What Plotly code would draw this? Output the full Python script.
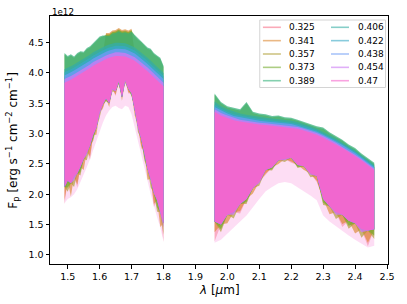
import plotly.graph_objects as go

# wavelength grids (micron) of the two spectral segments
wl_a = [1.49, 1.50, 1.51, 1.52, 1.53, 1.54, 1.55, 1.56, 1.57, 1.58, 1.59, 1.60, 1.61, 1.62, 1.63, 1.64,
        1.65, 1.66, 1.67, 1.68, 1.69, 1.70, 1.71, 1.72, 1.73, 1.74, 1.75, 1.76, 1.77, 1.78, 1.79, 1.80]
wl_b = [1.96, 1.98, 2.00, 2.02, 2.04, 2.06, 2.08, 2.10, 2.12, 2.14, 2.16, 2.18, 2.20, 2.22, 2.24, 2.26,
        2.28, 2.30, 2.32, 2.34, 2.36, 2.38, 2.40, 2.42, 2.44, 2.46]

labels = ["0.325", "0.341", "0.357", "0.373", "0.389", "0.406", "0.422", "0.438", "0.454", "0.47"]
colors = ["#f77189", "#dc8932", "#ae9d31", "#77ab31", "#33b07a",
          "#36ada4", "#38a9c5", "#6e9bf4", "#cc7af4", "#f565cc"]

# upper / lower envelope of each noisy spectrum, flux in units of 1e12 erg s-1 cm-2 cm-1
# (first 32 values on wl_a, then 26 values on wl_b)
up_0325 = [3.80, 3.82, 3.85, 3.88, 3.91, 3.94, 3.97, 4.01, 4.04, 4.08, 4.11, 4.14, 4.17, 4.19, 4.21, 4.23,
           4.24, 4.24, 4.24, 4.23, 4.21, 4.19, 4.16, 4.12, 4.08, 4.04, 3.99, 3.94, 3.89, 3.84, 3.79, 3.74,
           3.33, 3.27, 3.23, 3.19, 3.17, 3.15, 3.13, 3.12, 3.11, 3.10, 3.09, 3.08, 3.07, 3.05, 3.02, 2.99,
           2.95, 2.90, 2.85, 2.79, 2.73, 2.67, 2.60, 2.53, 2.45, 2.37]
lo_0325 = [1.83, 2.22, 2.18, 2.30, 2.11, 2.45, 2.58, 2.70, 2.57, 2.98, 3.10, 3.36, 3.40, 3.58, 3.50, 3.74,
           3.62, 3.86, 3.60, 3.88, 3.66, 3.66, 3.42, 3.12, 2.76, 2.70, 2.42, 2.25, 1.79, 1.90, 1.70, 1.21,
           1.22, 1.50, 1.66, 1.70, 1.68, 1.92, 2.10, 2.20, 2.32, 2.44, 2.56, 2.58, 2.52, 2.48, 2.46, 2.34,
           2.20, 1.92, 1.80, 1.70, 1.46, 1.56, 1.52, 1.42, 1.14, 1.42]

up_0341 = [3.94, 3.96, 3.99, 4.02, 4.05, 4.08, 4.11, 4.15, 4.18, 4.22, 4.25, 4.28, 4.31, 4.66, 4.66, 4.70,
           4.71, 4.74, 4.71, 4.72, 4.70, 4.73, 4.30, 4.26, 4.22, 4.18, 4.13, 4.08, 4.03, 3.98, 3.93, 3.88,
           3.41, 3.35, 3.31, 3.27, 3.25, 3.23, 3.21, 3.20, 3.19, 3.18, 3.17, 3.16, 3.15, 3.13, 3.10, 3.07,
           3.03, 2.98, 2.93, 2.87, 2.81, 2.75, 2.68, 2.61, 2.53, 2.45]
lo_0341 = [1.90, 2.22, 1.96, 2.30, 2.16, 2.45, 2.40, 2.70, 2.62, 2.98, 2.98, 3.36, 3.42, 3.58, 3.44, 3.74,
           3.64, 3.86, 3.54, 3.88, 3.68, 3.66, 3.30, 3.12, 2.80, 2.70, 2.24, 2.25, 1.84, 1.90, 1.46, 1.52,
           1.37, 1.50, 1.52, 1.70, 1.72, 1.92, 2.01, 2.20, 2.34, 2.44, 2.50, 2.58, 2.54, 2.48, 2.40, 2.34,
           2.22, 1.92, 1.67, 1.70, 1.51, 1.56, 1.35, 1.42, 1.20, 1.42]

up_0357 = [3.94, 3.96, 3.99, 4.02, 4.05, 4.08, 4.11, 4.15, 4.18, 4.22, 4.25, 4.28, 4.31, 4.64, 4.64, 4.68,
           4.69, 4.72, 4.69, 4.70, 4.68, 4.71, 4.30, 4.26, 4.22, 4.18, 4.13, 4.08, 4.03, 3.98, 3.93, 3.88,
           3.41, 3.35, 3.31, 3.27, 3.25, 3.23, 3.21, 3.20, 3.19, 3.18, 3.17, 3.16, 3.15, 3.13, 3.10, 3.07,
           3.03, 2.98, 2.93, 2.87, 2.81, 2.75, 2.68, 2.61, 2.53, 2.45]
lo_0357 = [2.12, 2.04, 2.18, 2.12, 2.34, 2.31, 2.58, 2.56, 2.80, 2.88, 3.10, 3.26, 3.48, 3.53, 3.50, 3.69,
           3.70, 3.81, 3.60, 3.83, 3.74, 3.61, 3.42, 3.02, 2.92, 2.56, 2.42, 2.11, 2.02, 1.71, 1.70, 1.33,
           1.55, 1.37, 1.66, 1.60, 1.84, 1.84, 2.10, 2.14, 2.40, 2.39, 2.56, 2.53, 2.60, 2.43, 2.46, 2.28,
           2.30, 1.82, 1.80, 1.59, 1.66, 1.43, 1.52, 1.28, 1.40, 1.26]

up_0373 = [4.31, 4.26, 4.29, 4.25, 4.31, 4.34, 4.33, 4.39, 4.42, 4.47, 4.53, 4.58, 4.60, 4.63, 4.63, 4.67,
           4.68, 4.71, 4.68, 4.69, 4.67, 4.70, 4.61, 4.55, 4.51, 4.45, 4.40, 4.38, 4.31, 4.27, 4.23, 4.10,
           3.64, 3.50, 3.43, 3.40, 3.38, 3.50, 3.34, 3.31, 3.30, 3.27, 3.28, 3.25, 3.24, 3.21, 3.17, 3.14,
           3.10, 3.08, 3.00, 2.94, 2.88, 2.80, 2.74, 2.65, 2.58, 2.50]
lo_0373 = [2.12, 2.11, 2.18, 2.30, 2.34, 2.36, 2.58, 2.70, 2.80, 2.92, 3.10, 3.36, 3.48, 3.55, 3.50, 3.74,
           3.70, 3.83, 3.60, 3.88, 3.74, 3.63, 3.42, 3.12, 2.92, 2.61, 2.42, 2.25, 2.02, 1.78, 1.70, 1.52,
           1.55, 1.42, 1.66, 1.70, 1.84, 1.87, 2.10, 2.20, 2.40, 2.41, 2.56, 2.58, 2.60, 2.45, 2.46, 2.34,
           2.30, 1.86, 1.80, 1.70, 1.66, 1.48, 1.52, 1.42, 1.40, 1.32]

up_0389 = [4.33, 4.28, 4.31, 4.27, 4.33, 4.36, 4.35, 4.41, 4.44, 4.49, 4.55, 4.60, 4.62, 4.61, 4.61, 4.65,
           4.66, 4.69, 4.66, 4.67, 4.65, 4.68, 4.63, 4.57, 4.53, 4.47, 4.42, 4.40, 4.33, 4.29, 4.25, 4.12,
           3.66, 3.52, 3.45, 3.42, 3.40, 3.52, 3.36, 3.33, 3.32, 3.29, 3.30, 3.27, 3.26, 3.23, 3.19, 3.16,
           3.12, 3.10, 3.02, 2.96, 2.90, 2.82, 2.76, 2.67, 2.60, 2.52]
lo_0389 = [2.12, 2.22, 2.18, 2.30, 2.34, 2.45, 2.58, 2.70, 2.80, 2.98, 3.10, 3.36, 3.48, 3.58, 3.50, 3.74,
           3.70, 3.86, 3.60, 3.88, 3.74, 3.66, 3.42, 3.12, 2.92, 2.70, 2.42, 2.25, 2.02, 1.90, 1.70, 1.52,
           1.55, 1.50, 1.66, 1.70, 1.84, 1.92, 2.10, 2.20, 2.40, 2.44, 2.56, 2.58, 2.60, 2.48, 2.46, 2.34,
           2.30, 1.92, 1.80, 1.70, 1.66, 1.56, 1.52, 1.42, 1.40, 1.42]

up_0406 = [4.06, 4.08, 4.11, 4.14, 4.17, 4.20, 4.23, 4.27, 4.30, 4.34, 4.37, 4.40, 4.43, 4.45, 4.47, 4.49,
           4.50, 4.50, 4.50, 4.49, 4.47, 4.45, 4.42, 4.38, 4.34, 4.30, 4.25, 4.20, 4.15, 4.10, 4.05, 4.00,
           3.53, 3.45, 3.40, 3.36, 3.33, 3.31, 3.29, 3.28, 3.26, 3.25, 3.24, 3.22, 3.21, 3.19, 3.16, 3.12,
           3.08, 3.03, 2.98, 2.92, 2.85, 2.79, 2.72, 2.64, 2.56, 2.48]
lo_0406 = [2.12, 2.22, 2.18, 2.30, 2.34, 2.45, 2.58, 2.70, 2.80, 2.98, 3.10, 3.36, 3.48, 3.58, 3.50, 3.74,
           3.70, 3.86, 3.60, 3.88, 3.74, 3.66, 3.42, 3.12, 2.92, 2.70, 2.42, 2.25, 2.02, 1.90, 1.70, 1.52,
           1.55, 1.50, 1.66, 1.70, 1.84, 1.92, 2.10, 2.20, 2.40, 2.44, 2.56, 2.58, 2.60, 2.48, 2.46, 2.34,
           2.30, 1.92, 1.80, 1.70, 1.66, 1.56, 1.52, 1.42, 1.40, 1.42]

up_0422 = [4.01, 4.03, 4.06, 4.09, 4.12, 4.15, 4.18, 4.22, 4.25, 4.29, 4.32, 4.35, 4.38, 4.40, 4.42, 4.44,
           4.45, 4.45, 4.45, 4.44, 4.42, 4.40, 4.37, 4.33, 4.29, 4.25, 4.20, 4.15, 4.10, 4.05, 4.00, 3.95,
           3.48, 3.41, 3.36, 3.32, 3.30, 3.28, 3.25, 3.24, 3.23, 3.22, 3.21, 3.19, 3.18, 3.16, 3.13, 3.09,
           3.05, 3.00, 2.95, 2.89, 2.83, 2.77, 2.70, 2.62, 2.54, 2.46]
lo_0422 = [2.12, 2.22, 2.18, 2.30, 2.34, 2.45, 2.58, 2.70, 2.80, 2.98, 3.10, 3.36, 3.48, 3.58, 3.50, 3.74,
           3.70, 3.86, 3.60, 3.88, 3.74, 3.66, 3.42, 3.12, 2.92, 2.70, 2.42, 2.25, 2.02, 1.90, 1.70, 1.52,
           1.55, 1.50, 1.66, 1.70, 1.84, 1.92, 2.10, 2.20, 2.40, 2.44, 2.56, 2.58, 2.60, 2.48, 2.46, 2.34,
           2.30, 1.92, 1.80, 1.70, 1.66, 1.56, 1.52, 1.42, 1.40, 1.42]

up_0438 = [3.96, 3.98, 4.01, 4.04, 4.07, 4.10, 4.13, 4.17, 4.20, 4.24, 4.27, 4.30, 4.33, 4.35, 4.37, 4.39,
           4.40, 4.40, 4.40, 4.39, 4.37, 4.35, 4.32, 4.28, 4.24, 4.20, 4.15, 4.10, 4.05, 4.00, 3.95, 3.90,
           3.44, 3.38, 3.33, 3.29, 3.27, 3.25, 3.22, 3.21, 3.20, 3.19, 3.18, 3.17, 3.16, 3.13, 3.10, 3.07,
           3.03, 2.98, 2.93, 2.87, 2.81, 2.75, 2.68, 2.60, 2.52, 2.44]
lo_0438 = [2.12, 2.22, 2.18, 2.30, 2.34, 2.45, 2.58, 2.70, 2.80, 2.98, 3.10, 3.36, 3.48, 3.58, 3.50, 3.74,
           3.70, 3.86, 3.60, 3.88, 3.74, 3.66, 3.42, 3.12, 2.92, 2.70, 2.42, 2.25, 2.02, 1.90, 1.70, 1.52,
           1.55, 1.50, 1.66, 1.70, 1.84, 1.92, 2.10, 2.20, 2.40, 2.44, 2.56, 2.58, 2.60, 2.48, 2.46, 2.34,
           2.30, 1.92, 1.80, 1.70, 1.66, 1.56, 1.52, 1.42, 1.40, 1.42]

up_0454 = [3.90, 3.92, 3.95, 3.98, 4.01, 4.04, 4.07, 4.11, 4.14, 4.18, 4.21, 4.24, 4.27, 4.29, 4.31, 4.33,
           4.34, 4.34, 4.34, 4.33, 4.31, 4.29, 4.26, 4.22, 4.18, 4.14, 4.09, 4.04, 3.99, 3.94, 3.89, 3.84,
           3.40, 3.34, 3.30, 3.26, 3.23, 3.21, 3.19, 3.18, 3.17, 3.16, 3.15, 3.14, 3.13, 3.11, 3.08, 3.05,
           3.01, 2.96, 2.91, 2.85, 2.78, 2.72, 2.65, 2.58, 2.50, 2.42]
lo_0454 = [2.12, 2.22, 2.18, 2.23, 2.34, 2.45, 2.58, 2.65, 2.80, 2.98, 3.10, 3.32, 3.48, 3.58, 3.50, 3.72,
           3.70, 3.86, 3.60, 3.86, 3.74, 3.66, 3.42, 3.08, 2.92, 2.70, 2.42, 2.20, 2.02, 1.90, 1.70, 1.45,
           1.55, 1.50, 1.66, 1.66, 1.84, 1.92, 2.10, 2.18, 2.40, 2.44, 2.56, 2.56, 2.60, 2.48, 2.46, 2.32,
           2.30, 1.92, 1.80, 1.66, 1.66, 1.56, 1.52, 1.37, 1.40, 1.42]

up_047 = [3.84, 3.86, 3.89, 3.92, 3.95, 3.98, 4.01, 4.05, 4.08, 4.12, 4.15, 4.18, 4.21, 4.23, 4.25, 4.27,
          4.28, 4.28, 4.28, 4.27, 4.25, 4.23, 4.20, 4.16, 4.12, 4.08, 4.03, 3.98, 3.93, 3.88, 3.83, 3.78,
          3.36, 3.30, 3.26, 3.22, 3.20, 3.18, 3.16, 3.15, 3.14, 3.13, 3.12, 3.11, 3.10, 3.08, 3.05, 3.02,
          2.98, 2.93, 2.88, 2.82, 2.76, 2.70, 2.63, 2.56, 2.48, 2.40]
lo_047 = [2.12, 2.22, 2.18, 2.30, 2.34, 2.45, 2.58, 2.70, 2.80, 2.98, 3.10, 3.36, 3.48, 3.58, 3.50, 3.74,
          3.70, 3.86, 3.60, 3.88, 3.74, 3.66, 3.42, 3.12, 2.92, 2.70, 2.42, 2.25, 2.02, 1.90, 1.70, 1.52,
          1.55, 1.50, 1.66, 1.70, 1.84, 1.92, 2.10, 2.20, 2.40, 2.44, 2.56, 2.58, 2.60, 2.48, 2.46, 2.34,
          2.30, 1.92, 1.80, 1.70, 1.66, 1.56, 1.52, 1.42, 1.40, 1.42]

# deepest reach of the sparse downward noise spikes below the dense band
spike_floor = [1.85, 1.92, 1.95, 2.00, 2.08, 2.20, 2.32, 2.45, 2.58, 2.72, 2.86, 3.02, 3.18, 3.30, 3.38, 3.44,
               3.46, 3.42, 3.40, 3.46, 3.44, 3.32, 3.12, 2.88, 2.66, 2.45, 2.22, 2.00, 1.80, 1.62, 1.45, 1.22,
               1.20, 1.25, 1.35, 1.45, 1.55, 1.65, 1.78, 1.92, 2.05, 2.12, 2.18, 2.20, 2.18, 2.12, 2.05, 1.98,
               1.90, 1.65, 1.55, 1.48, 1.40, 1.32, 1.25, 1.18, 1.12, 1.15]

uppers = [up_0325, up_0341, up_0357, up_0373, up_0389, up_0406, up_0422, up_0438, up_0454, up_047]
lowers = [lo_0325, lo_0341, lo_0357, lo_0373, lo_0389, lo_0406, lo_0422, lo_0438, lo_0454, lo_047]
alphas = [0.45, 0.65, 0.65, 0.7, 0.72, 0.8, 0.8, 0.8, 0.8, 0.93]

FONT = "DejaVu Sans"
W, H = 407, 304
L, R, T, B = 50, 394, 16, 264  # plot area in pixels


def rgba(hexc, a):
    h = hexc.lstrip("#")
    return "rgba(%d,%d,%d,%.2f)" % (int(h[0:2], 16), int(h[2:4], 16), int(h[4:6], 16), a)


def band(upper, lower):
    na = len(wl_a)
    xs = wl_a + wl_a[::-1] + [None] + wl_b + wl_b[::-1]
    ys = upper[:na] + lower[:na][::-1] + [None] + upper[na:] + lower[na:][::-1]
    return xs, ys


fig = go.Figure()
# faint fringe of sparse spikes (drawn first, underneath the dense bands)
xs, ys = band(lo_047, spike_floor)
fig.add_trace(go.Scatter(x=xs, y=ys, mode="lines", fill="toself",
                         fillcolor=rgba(colors[-1], 0.22), line=dict(width=0),
                         showlegend=False, hoverinfo="skip"))
for name, col, up, lo, a in zip(labels, colors, uppers, lowers, alphas):
    xs, ys = band(up, lo)
    fig.add_trace(go.Scatter(x=xs, y=ys, mode="lines", fill="toself",
                             fillcolor=rgba(col, a), line=dict(width=0, color=rgba(col, a)),
                             name=name, showlegend=False, hoverinfo="skip"))


def px2x(px):
    return (px - L) / (R - L)


def py2y(py):
    return (B - py) / (B - T)


shapes = []
annotations = []
# legend frame
shapes.append(dict(type="rect", xref="paper", yref="paper",
                   x0=px2x(263.5), x1=px2x(391.5), y0=py2y(87.5), y1=py2y(20),
                   line=dict(color="#d4d4d4", width=1), fillcolor="rgba(255,255,255,0.8)", layer="above"))
for k, (name, col) in enumerate(zip(labels, colors)):
    c, r = divmod(k, 5)
    yy = py2y(27.3 + 13.35 * r)
    x0 = 266.7 + 69.3 * c
    shapes.append(dict(type="line", xref="paper", yref="paper",
                       x0=px2x(x0), x1=px2x(x0 + 18.3), y0=yy, y1=yy,
                       line=dict(color=rgba(col, 0.6), width=1.6), layer="above"))
    annotations.append(dict(xref="paper", yref="paper", x=px2x(x0 + 25), y=yy, text=name,
                            showarrow=False, xanchor="left", yanchor="middle",
                            font=dict(family=FONT, size=9, color="black")))

annotations.append(dict(xref="paper", yref="paper", x=0, y=py2y(11.5), text="1e12", showarrow=False,
                        xanchor="left", yanchor="middle", font=dict(family=FONT, size=8.7, color="black")))
annotations.append(dict(xref="paper", yref="paper", x=px2x(222), y=py2y(290),
                        text="<i>λ</i> [<i>μ</i>m]", showarrow=False, xanchor="center", yanchor="middle",
                        font=dict(family=FONT, size=12, color="black")))
annotations.append(dict(xref="paper", yref="paper", x=px2x(12), y=py2y(140),
                        text="F<sub>p</sub> [erg s<sup>−1</sup> cm<sup>−2</sup> cm<sup>−1</sup>]",
                        showarrow=False, textangle=-90, xanchor="center", yanchor="middle",
                        font=dict(family=FONT, size=12, color="black")))

axis_common = dict(showgrid=False, zeroline=False, showline=True, linecolor="black", linewidth=1,
                   mirror=True, ticks="outside", ticklen=3.5, tickwidth=0.8, tickcolor="black",
                   tickfont=dict(family=FONT, size=9.5, color="black"))

fig.update_layout(
    width=W, height=H, margin=dict(l=L, r=W - R, t=T, b=H - B),
    paper_bgcolor="white", plot_bgcolor="white", showlegend=False,
    xaxis=dict(range=[1.4446, 2.5031], tickmode="array",
               tickvals=[1.5, 1.6, 1.7, 1.8, 1.9, 2.0, 2.1, 2.2, 2.3, 2.4, 2.5],
               ticktext=["1.5", "1.6", "1.7", "1.8", "1.9", "2.0", "2.1", "2.2", "2.3", "2.4", "2.5"],
               **axis_common),
    yaxis=dict(range=[0.848, 4.94], tickmode="array",
               tickvals=[1.0, 1.5, 2.0, 2.5, 3.0, 3.5, 4.0, 4.5],
               ticktext=["1.0", "1.5", "2.0", "2.5", "3.0", "3.5", "4.0", "4.5"],
               **axis_common),
    shapes=shapes, annotations=annotations,
)

fig.write_html("out.html", config={"displayModeBar": False},
               post_script="document.body.style.margin='0px';")
